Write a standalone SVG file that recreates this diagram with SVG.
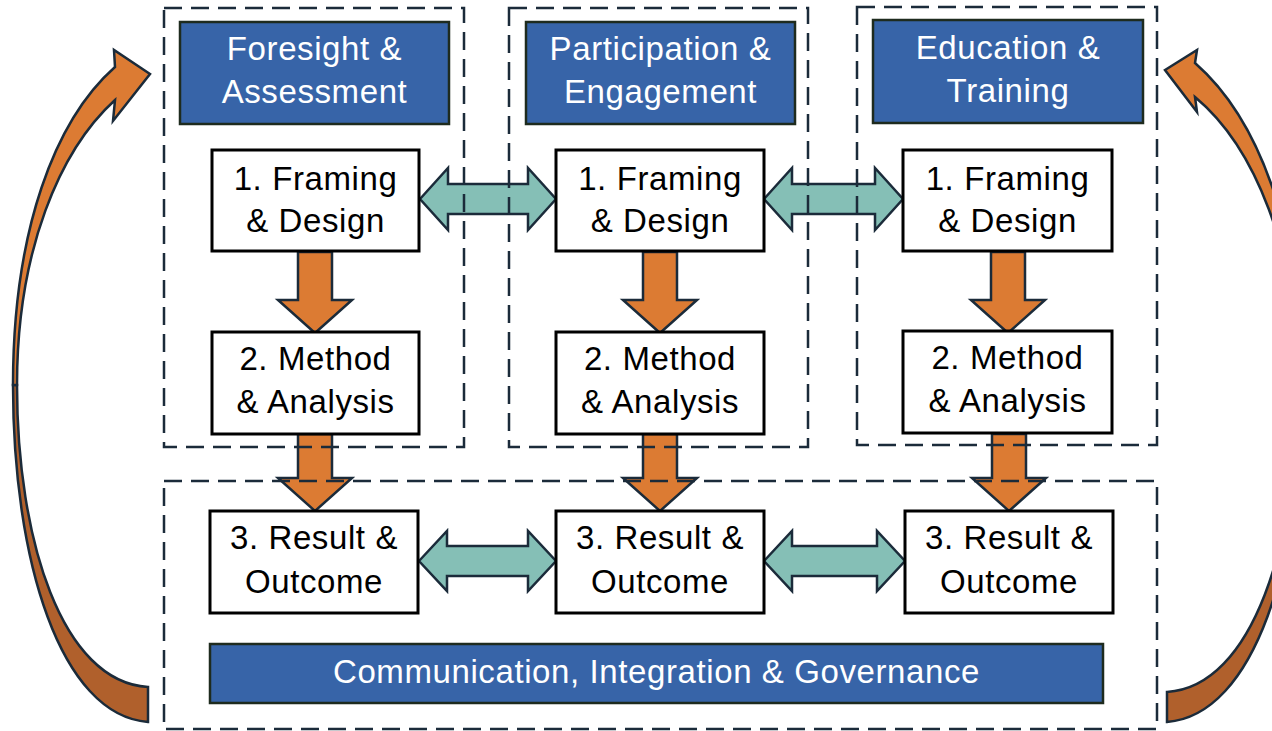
<svg xmlns="http://www.w3.org/2000/svg" width="1272" height="731" viewBox="0 0 1272 731">
<style>
.dash{fill:none;stroke:#1B2B3A;stroke-width:2.5;stroke-dasharray:18 9}
.hdr{fill:#3764A8;stroke:#1E2B1E;stroke-width:2.5}
.box{fill:#fff;stroke:#000;stroke-width:3}
.t{font-family:"Liberation Sans",Arial,sans-serif;font-size:33px;letter-spacing:0.6px;text-anchor:middle}
.w{fill:#fff}
.k{fill:#000}
.down{fill:#DC7B33;stroke:#1B2B3A;stroke-width:2.5;stroke-linejoin:miter}
.teal{fill:#85BFB6;stroke:#1B2B3A;stroke-width:2.5}
.cf{fill:#DC7B33;stroke:#1B2B3A;stroke-width:2.5;stroke-linejoin:miter}
.cb{fill:#B0602C;stroke:#1B2B3A;stroke-width:2.5}
</style>
<rect width="1272" height="731" fill="#fff"/>
<g id="connectors">
  <polygon class="teal" points="420,199 448,168 448,184 528,184 528,168 556,199 528,230 528,214 448,214 448,230"/>
  <polygon class="teal" points="764,199 792,168 792,184 875,184 875,168 903,199 875,230 875,214 792,214 792,230"/>
  <polygon class="teal" points="419,561 447,531 447,546 528,546 528,531 556,561 528,591 528,576 447,576 447,591"/>
  <polygon class="teal" points="764,561 792,531 792,546 877,546 877,531 905,561 877,591 877,576 792,576 792,591"/>
  <polygon class="down" points="298,252 332,252 332,300 352,300 315,333 278,300 298,300"/>
  <polygon class="down" points="643,252 677,252 677,300 697,300 660,333 623,300 643,300"/>
  <polygon class="down" points="991,252 1025,252 1025,300 1045,300 1008,333 971,300 991,300"/>
  <polygon class="down" points="298,434 332,434 332,478 352,478 315,511 278,478 298,478"/>
  <polygon class="down" points="643,434 677,434 677,478 697,478 660,511 623,478 643,478"/>
  <polygon class="down" points="992,434 1026,434 1026,478 1046,478 1009,511 972,478 992,478"/>
  <path class="cb" d="M13,385 C13,560 60,715 148,722 L148,687 C62,682 17,540 17,385 Z"/>
  <path class="cf" d="M13,385 C13,230 55,120 115,67 L114,50 L150,74 L113,121 L115,100 C60,150 17,250 17,385 Z"/>
  <path class="cb" d="M1302,385 C1302,560 1255,715 1167,722 L1167,692 C1253,687 1298,540 1298,385 Z"/>
  <path class="cf" d="M1302,385 C1302,230 1258,118 1195,63 L1197,50 L1165,70 L1197,112 L1195,97 C1254,146 1298,250 1298,385 Z"/>
</g>
<g id="foresight-assessment">
  <rect class="dash" x="164" y="8" width="300" height="439"/>
  <rect class="hdr" x="180" y="22" width="269" height="102"/>
  <text class="t w" x="314.5" y="60">Foresight &amp;</text>
  <text class="t w" x="314.5" y="103">Assessment</text>
</g>
<g id="participation-engagement">
  <rect class="dash" x="509" y="8" width="299" height="439"/>
  <rect class="hdr" x="526" y="22" width="269" height="102"/>
  <text class="t w" x="660.5" y="60">Participation &amp;</text>
  <text class="t w" x="660.5" y="103">Engagement</text>
</g>
<g id="education-training">
  <rect class="dash" x="857" y="7" width="300" height="438"/>
  <rect class="hdr" x="873" y="20" width="270" height="103"/>
  <text class="t w" x="1008" y="59">Education &amp;</text>
  <text class="t w" x="1008" y="102">Training</text>
</g>
<g id="framing-1">
  <rect class="box" x="212" y="150" width="207" height="101"/>
  <text class="t k" x="315.5" y="190">1. Framing</text>
  <text class="t k" x="315.5" y="232">&amp; Design</text>
</g>
<g id="framing-2">
  <rect class="box" x="556" y="150" width="208" height="101"/>
  <text class="t k" x="660" y="190">1. Framing</text>
  <text class="t k" x="660" y="232">&amp; Design</text>
</g>
<g id="framing-3">
  <rect class="box" x="903" y="150" width="209" height="101"/>
  <text class="t k" x="1007.5" y="190">1. Framing</text>
  <text class="t k" x="1007.5" y="232">&amp; Design</text>
</g>
<g id="method-1">
  <rect class="box" x="212" y="332" width="207" height="102"/>
  <text class="t k" x="315.5" y="370">2. Method</text>
  <text class="t k" x="315.5" y="413">&amp; Analysis</text>
</g>
<g id="method-2">
  <rect class="box" x="556" y="332" width="208" height="102"/>
  <text class="t k" x="660" y="370">2. Method</text>
  <text class="t k" x="660" y="413">&amp; Analysis</text>
</g>
<g id="method-3">
  <rect class="box" x="903" y="331" width="209" height="102"/>
  <text class="t k" x="1007.5" y="369">2. Method</text>
  <text class="t k" x="1007.5" y="412">&amp; Analysis</text>
</g>
<g id="communication-integration-governance">
  <rect class="dash" x="164" y="481" width="993" height="248"/>
  <rect class="hdr" x="210" y="644" width="893" height="59"/>
  <text class="t w" x="656.5" y="683">Communication, Integration &amp; Governance</text>
</g>
<g id="result-1">
  <rect class="box" x="210" y="511" width="208" height="102"/>
  <text class="t k" x="314" y="549">3. Result &amp;</text>
  <text class="t k" x="314" y="593">Outcome</text>
</g>
<g id="result-2">
  <rect class="box" x="556" y="511" width="208" height="102"/>
  <text class="t k" x="660" y="549">3. Result &amp;</text>
  <text class="t k" x="660" y="593">Outcome</text>
</g>
<g id="result-3">
  <rect class="box" x="905" y="511" width="208" height="102"/>
  <text class="t k" x="1009" y="549">3. Result &amp;</text>
  <text class="t k" x="1009" y="593">Outcome</text>
</g>
</svg>
